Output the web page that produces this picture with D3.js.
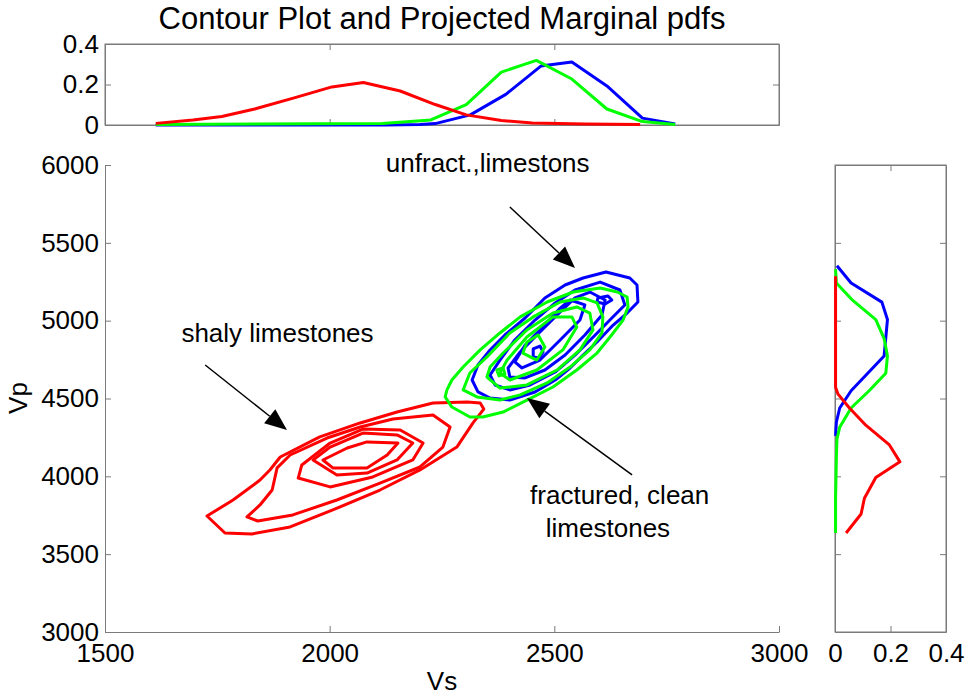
<!DOCTYPE html>
<html>
<head>
<meta charset="utf-8">
<script src="https://cdn.jsdelivr.net/npm/d3@7/dist/d3.min.js"></script>
<style>
  body { margin: 0; background: #fff; }
  text { font-family: "Liberation Sans", Arial, sans-serif; fill: #000; }
</style>
</head>
<body>
<script>
/**
Contour plot of Vp vs Vs for three rock classes,
with the projected marginal pdfs on top and on the right.
*/

const width = 967;
const height = 696;

// tick labels
const vsTicks = [1500, 2000, 2500, 3000];
const vpTicks = [3000, 3500, 4000, 4500, 5000, 5500, 6000];
const pdfTicks = [0, 0.2, 0.4];

// top marginal pdf (Vs)
const redTopVs = [1613, 1696, 1760, 1833, 1921, 2005, 2075, 2157, 2235, 2304, 2382, 2451, 2568, 2691];
const redTopPdf = [0.008, 0.025, 0.042, 0.079, 0.134, 0.188, 0.21, 0.168, 0.101, 0.05, 0.022, 0.01, 0.005, 0.003];
const blueTopVs = [1613, 2123, 2201, 2235, 2313, 2392, 2470, 2539, 2617, 2696, 2769];
const blueTopPdf = [0, 0, 0.002, 0.007, 0.05, 0.151, 0.291, 0.311, 0.193, 0.034, 0.005];
const greenTopVs = [1613, 2117, 2225, 2304, 2382, 2460, 2539, 2617, 2696, 2769];
const greenTopPdf = [0.002, 0.008, 0.025, 0.101, 0.261, 0.319, 0.227, 0.079, 0.017, 0.003];

// right marginal pdf (Vp)
const blueRightVp = [5353, 5242, 5119, 5007, 4773, 4651, 4550, 4439, 4349, 4260];
const blueRightPdf = [0.007, 0.058, 0.169, 0.189, 0.177, 0.112, 0.058, 0.017, 0.005, 0.002];
const greenRightVp = [5331, 5242, 5130, 5007, 4885, 4773, 4662, 4550, 4439, 4316, 4238, 4126, 3859, 3636];
const greenRightPdf = [0.002, 0.005, 0.064, 0.147, 0.177, 0.189, 0.183, 0.123, 0.058, 0.017, 0.007, 0.005, 0.002, 0.002];
const redRightVp = [5286, 4572, 4528, 4439, 4327, 4204, 4093, 3993, 3859, 3758, 3636];
const redRightPdf = [0.002, 0.002, 0.011, 0.052, 0.112, 0.195, 0.234, 0.147, 0.106, 0.094, 0.04];

// contour lines, each a closed ring of [Vs, Vp]
const redContours = [
  [[1727,3745],[1767,3636],[1827,3630],[1912,3675],[2007,3784],[2112,3912],[2201,4041],[2283,4188],[2319,4343],[2343,4432],
   [2335,4471],[2306,4478],[2230,4471],[2150,4413],[2068,4343],[1978,4253],[1890,4124],[1867,4041],[1845,3976],[1785,3848]],
  [[1816,3739],[1840,3713],[1918,3752],[2016,3848],[2112,3957],[2201,4060],[2252,4188],[2268,4317],[2230,4394],[2141,4368],
   [2068,4317],[1994,4246],[1912,4137],[1883,4054],[1872,3912],[1845,3816]],
  [[1938,4073],[1930,3989],[2001,3932],[2096,3996],[2185,4105],[2208,4214],[2157,4298],[2074,4304],[2001,4214]],
  [[1963,4105],[2016,4009],[2083,4021],[2150,4105],[2185,4214],[2150,4266],[2074,4278],[2001,4188]],
  [[1985,4105],[2007,4054],[2083,4054],[2128,4137],[2152,4214],[2083,4221],[2039,4182]]
];
const blueContours = [
  [[2615,5313],[2668,5274],[2684,5229],[2686,5120],[2662,5049],[2631,4972],[2595,4863],[2564,4779],[2535,4696],[2502,4619],
   [2457,4542],[2401,4490],[2357,4503],[2330,4542],[2317,4619],[2330,4715],[2357,4812],[2390,4908],[2435,5017],[2479,5146],
   [2524,5229],[2564,5274]],
  [[2602,5248],[2646,5197],[2657,5101],[2628,5017],[2591,4908],[2546,4779],[2502,4670],[2446,4587],[2401,4555],[2368,4587],
   [2357,4651],[2379,4747],[2412,4876],[2457,5004],[2502,5114],[2546,5197]],
  [[2579,5184],[2613,5133],[2606,5036],[2568,4908],[2524,4779],[2479,4683],[2435,4632],[2401,4638],[2397,4696],[2424,4799],
   [2468,4927],[2513,5056],[2546,5146]],
  [[2535,5133],[2568,5101],[2557,5004],[2513,4876],[2468,4747],[2428,4696],[2412,4735],[2435,4844],[2479,4972],[2513,5081]],
  [[2453,4818],[2468,4837],[2475,4799],[2466,4760],[2453,4767]],
  [[2597,5146],[2619,5159],[2628,5133],[2613,5107],[2595,5120]]
];
const greenContours = [
  [[2261,4555],[2257,4510],[2272,4445],[2312,4381],[2341,4381],[2386,4413],[2439,4490],[2497,4574],[2550,4683],[2595,4792],
   [2624,4895],[2653,5004],[2664,5088],[2662,5152],[2640,5184],[2602,5210],[2542,5184],[2484,5120],[2424,5024],[2379,4921],
   [2335,4812],[2297,4702],[2272,4619]],
  [[2297,4555],[2328,4510],[2379,4490],[2424,4523],[2484,4600],[2535,4702],[2579,4812],[2606,4921],[2608,5024],[2595,5114],
   [2564,5146],[2513,5120],[2453,5024],[2401,4921],[2350,4767],[2312,4664]],
  [[2350,4638],[2379,4567],[2439,4587],[2506,4683],[2557,4812],[2586,4940],[2579,5049],[2550,5088],[2497,5049],[2439,4940],
   [2386,4792],[2357,4702]],
  [[2379,4664],[2401,4619],[2461,4683],[2519,4812],[2550,4959],[2539,5024],[2497,5024],[2439,4895],[2395,4747]],
  [[2439,4863],[2464,4908],[2479,4831],[2461,4747],[2430,4792]],
  [[2372,4683],[2386,4696],[2390,4657],[2377,4645]]
];

// annotations: text anchor and arrow [from, to] in [Vs, Vp]
const labels = [
  { text: 'unfract.,limestons', at: [2125, 5955] },
  { text: 'shaly limestones', at: [1670, 4860] },
  { text: 'fractured, clean', at: [2446, 3820] },
  { text: ' limestones', at: [2465, 3610] }
];
const arrows = [
  [[2401, 5730], [2546, 5338]],
  [[1723, 4715], [1905, 4298]],
  [[2673, 4009], [2439, 4503]]
];

// The svg
var svg = d3.select('body')
  .append('svg')
  .attr('width', width)
  .attr('height', height)
  .style('background-color', '#fff');

// scales
var x = d3.scaleLinear().domain([1500, 3000]).range([105, 779]);
var y = d3.scaleLinear().domain([3000, 6000]).range([632, 165]);
var yTop = d3.scaleLinear().domain([0, 0.4]).range([125, 44]);
var xRight = d3.scaleLinear().domain([0, 0.4]).range([835, 946]);

const axisColor = '#7a7a7a';
const fontSize = '26px';

// title
svg.append('text')
  .attr('x', 442)
  .attr('y', 29)
  .style('font-size', '31px')
  .style('text-anchor', 'middle')
  .text('Contour Plot and Projected Marginal pdfs');

/**
style an axis group: grey lines, black labels
*/
function styleAxis(g, showLabels) {
  g.selectAll('path, line').attr('stroke', axisColor);
  g.selectAll('text')
    .style('font-size', fontSize)
    .attr('fill', '#000')
    .style('display', showLabels ? null : 'none');
}

// ---- main plot ----
var mainPanel = svg.append('g');

mainPanel.append('g')
  .attr('transform', 'translate(0,632)')
  .call(d3.axisBottom(x).tickValues(vsTicks).tickFormat(d3.format('d')).tickSizeInner(-6).tickSizeOuter(0).tickPadding(12))
  .call(styleAxis, true);

mainPanel.append('g')
  .attr('transform', 'translate(105,0)')
  .call(d3.axisLeft(y).tickValues(vpTicks).tickFormat(d3.format('d')).tickSizeInner(-6).tickSizeOuter(0).tickPadding(6))
  .call(styleAxis, true);

svg.append('text')
  .attr('x', 442)
  .attr('y', 690)
  .style('font-size', fontSize)
  .style('text-anchor', 'middle')
  .text('Vs');

svg.append('text')
  .attr('transform', 'translate(27,398) rotate(-90)')
  .style('font-size', fontSize)
  .style('text-anchor', 'middle')
  .text('Vp');

var ring = d3.line()
  .x(d => x(d[0]))
  .y(d => y(d[1]))
  .curve(d3.curveLinearClosed);

function drawContours(list, color) {
  mainPanel.append('g').selectAll('path')
    .data(list)
    .enter().append('path')
    .attr('d', ring)
    .attr('fill', 'none')
    .attr('stroke', color)
    .attr('stroke-width', 3)
    .attr('stroke-linejoin', 'round');
}
drawContours(redContours, '#ff0000');
drawContours(blueContours, '#0000ff');
drawContours(greenContours, '#00ff00');

// annotation text
labels.forEach(function(l) {
  mainPanel.append('text')
    .attr('x', x(l.at[0]))
    .attr('y', y(l.at[1]))
    .style('font-size', fontSize)
    .style('white-space', 'pre')
    .attr('xml:space', 'preserve')
    .text(l.text);
});

// arrows: line plus a filled head
arrows.forEach(function(a) {
  var x0 = x(a[0][0]), y0 = y(a[0][1]);
  var x1 = x(a[1][0]), y1 = y(a[1][1]);
  var len = Math.hypot(x1 - x0, y1 - y0);
  var ux = (x1 - x0) / len, uy = (y1 - y0) / len;
  var hl = 22, hw = 9;
  var bx = x1 - ux * hl, by = y1 - uy * hl;
  mainPanel.append('line')
    .attr('x1', x0).attr('y1', y0)
    .attr('x2', bx).attr('y2', by)
    .attr('stroke', '#000')
    .attr('stroke-width', 1.5);
  mainPanel.append('path')
    .attr('d', 'M' + x1 + ',' + y1 +
      'L' + (bx - uy * hw) + ',' + (by + ux * hw) +
      'L' + (bx + uy * hw) + ',' + (by - ux * hw) + 'Z')
    .attr('fill', '#000');
});

// ---- top marginal ----
var topPanel = svg.append('g');

topPanel.append('rect')
  .attr('x', 105).attr('y', 44)
  .attr('width', 674).attr('height', 81)
  .attr('fill', 'none')
  .attr('stroke', axisColor);

topPanel.append('g')
  .attr('transform', 'translate(105,0)')
  .call(d3.axisLeft(yTop).tickValues(pdfTicks).tickFormat(d3.format('')).tickSizeInner(-6).tickSizeOuter(0).tickPadding(6))
  .call(styleAxis, true);
topPanel.append('g')
  .attr('transform', 'translate(779,0)')
  .call(d3.axisRight(yTop).tickValues(pdfTicks).tickSizeInner(-6).tickSizeOuter(0))
  .call(styleAxis, false);
topPanel.append('g')
  .attr('transform', 'translate(0,125)')
  .call(d3.axisBottom(x).tickValues([2000, 2500]).tickSizeInner(-6).tickSizeOuter(0))
  .call(styleAxis, false);
topPanel.append('g')
  .attr('transform', 'translate(0,44)')
  .call(d3.axisTop(x).tickValues([2000, 2500]).tickSizeInner(-6).tickSizeOuter(0))
  .call(styleAxis, false);

var topLine = d3.line()
  .x(d => x(d[0]))
  .y(d => yTop(d[1]));

[[blueTopVs, blueTopPdf, '#0000ff'],
 [greenTopVs, greenTopPdf, '#00ff00'],
 [redTopVs, redTopPdf, '#ff0000']].forEach(function(s) {
  topPanel.append('path')
    .datum(d3.zip(s[0], s[1]))
    .attr('d', topLine)
    .attr('fill', 'none')
    .attr('stroke', s[2])
    .attr('stroke-width', 3)
    .attr('stroke-linejoin', 'round');
});

// ---- right marginal ----
var rightPanel = svg.append('g');

rightPanel.append('rect')
  .attr('x', 835).attr('y', 165)
  .attr('width', 111).attr('height', 467)
  .attr('fill', 'none')
  .attr('stroke', axisColor);

rightPanel.append('g')
  .attr('transform', 'translate(0,632)')
  .call(d3.axisBottom(xRight).tickValues(pdfTicks).tickFormat(d3.format('')).tickSizeInner(-6).tickSizeOuter(0).tickPadding(12))
  .call(styleAxis, true);
rightPanel.append('g')
  .attr('transform', 'translate(0,165)')
  .call(d3.axisTop(xRight).tickValues([0.2]).tickSizeInner(-6).tickSizeOuter(0))
  .call(styleAxis, false);
rightPanel.append('g')
  .attr('transform', 'translate(835,0)')
  .call(d3.axisLeft(y).tickValues(vpTicks.slice(1, -1)).tickSizeInner(-6).tickSizeOuter(0))
  .call(styleAxis, false);
rightPanel.append('g')
  .attr('transform', 'translate(946,0)')
  .call(d3.axisRight(y).tickValues(vpTicks.slice(1, -1)).tickSizeInner(-6).tickSizeOuter(0))
  .call(styleAxis, false);

var rightLine = d3.line()
  .x(d => xRight(d[1]))
  .y(d => y(d[0]));

[[blueRightVp, blueRightPdf, '#0000ff'],
 [greenRightVp, greenRightPdf, '#00ff00'],
 [redRightVp, redRightPdf, '#ff0000']].forEach(function(s) {
  rightPanel.append('path')
    .datum(d3.zip(s[0], s[1]))
    .attr('d', rightLine)
    .attr('fill', 'none')
    .attr('stroke', s[2])
    .attr('stroke-width', 3)
    .attr('stroke-linejoin', 'round');
});
</script>
</body>
</html>
